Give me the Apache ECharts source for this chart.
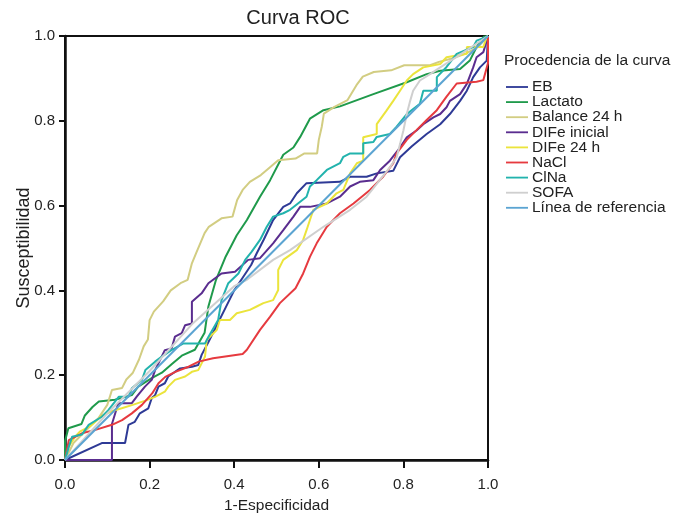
<!DOCTYPE html>
<html>
<head>
<meta charset="utf-8">
<script src="https://cdn.jsdelivr.net/npm/echarts@6/dist/echarts.min.js"></script>
<style>
html,body{margin:0;padding:0;background:#fff;}
#chart{width:683px;height:517px;}
</style>
</head>
<body>
<div id="chart"></div>
<script>
var seriesNames = ['EB','Lactato','Balance 24 h','DIFe inicial','DIFe 24 h','NaCl','ClNa','SOFA','Línea de referencia'];
var xTicks = ['0.0','0.2','0.4','0.6','0.8','1.0'];

var eb = [[0,0],[0.087,0.04],[0.142,0.04],[0.15,0.083],[0.165,0.09],[0.177,0.11],[0.197,0.122],[0.205,0.146],[0.213,0.153],[0.221,0.173],[0.236,0.181],[0.244,0.197],[0.272,0.216],[0.3,0.22],[0.315,0.224],[0.323,0.248],[0.34,0.28],[0.36,0.32],[0.38,0.36],[0.4,0.4],[0.42,0.43],[0.44,0.46],[0.453,0.487],[0.47,0.52],[0.492,0.566],[0.516,0.597],[0.532,0.605],[0.548,0.629],[0.571,0.653],[0.65,0.656],[0.674,0.668],[0.713,0.668],[0.737,0.676],[0.776,0.682],[0.792,0.714],[0.82,0.74],[0.855,0.769],[0.887,0.792],[0.91,0.816],[0.934,0.847],[0.95,0.871],[0.965,0.903],[0.981,0.926],[0.997,0.942],[1,1]];

var lactato = [[0,0],[0,0.045],[0.008,0.075],[0.039,0.085],[0.047,0.105],[0.065,0.125],[0.08,0.138],[0.118,0.142],[0.158,0.153],[0.173,0.173],[0.205,0.193],[0.229,0.206],[0.252,0.226],[0.276,0.246],[0.307,0.26],[0.33,0.3],[0.339,0.362],[0.357,0.425],[0.38,0.48],[0.406,0.53],[0.43,0.566],[0.461,0.621],[0.485,0.66],[0.516,0.72],[0.54,0.737],[0.556,0.762],[0.579,0.805],[0.611,0.825],[0.65,0.834],[0.729,0.863],[0.808,0.891],[0.855,0.91],[0.887,0.918],[0.934,0.922],[0.957,0.942],[0.973,0.974],[0.99,0.998],[1,1]];

var balance24 = [[0,0],[0.02,0.04],[0.05,0.07],[0.08,0.1],[0.1,0.13],[0.111,0.165],[0.135,0.17],[0.145,0.19],[0.16,0.205],[0.175,0.237],[0.186,0.268],[0.196,0.284],[0.2,0.33],[0.21,0.35],[0.232,0.374],[0.25,0.4],[0.273,0.417],[0.29,0.425],[0.3,0.464],[0.31,0.488],[0.33,0.535],[0.34,0.55],[0.37,0.57],[0.396,0.574],[0.407,0.613],[0.42,0.637],[0.437,0.656],[0.463,0.672],[0.484,0.69],[0.504,0.707],[0.545,0.711],[0.566,0.723],[0.596,0.723],[0.6,0.755],[0.607,0.786],[0.612,0.817],[0.637,0.833],[0.668,0.849],[0.689,0.884],[0.704,0.904],[0.73,0.915],[0.771,0.919],[0.802,0.931],[0.863,0.931],[0.884,0.939],[0.915,0.947],[0.946,0.958],[0.976,0.974],[1,1]];

var difeInicial = [[0,0],[0.111,0],[0.111,0.085],[0.126,0.134],[0.158,0.134],[0.17,0.15],[0.189,0.173],[0.205,0.189],[0.213,0.212],[0.236,0.259],[0.252,0.263],[0.26,0.291],[0.276,0.299],[0.284,0.318],[0.3,0.322],[0.3,0.373],[0.323,0.393],[0.339,0.417],[0.37,0.44],[0.402,0.444],[0.433,0.472],[0.461,0.476],[0.492,0.511],[0.516,0.542],[0.54,0.574],[0.556,0.597],[0.579,0.597],[0.619,0.605],[0.65,0.621],[0.674,0.645],[0.697,0.656],[0.729,0.66],[0.745,0.684],[0.768,0.706],[0.792,0.737],[0.808,0.761],[0.831,0.777],[0.847,0.792],[0.871,0.808],[0.887,0.816],[0.902,0.832],[0.91,0.847],[0.934,0.863],[0.95,0.887],[0.965,0.926],[0.973,0.95],[0.989,0.962],[0.997,0.989],[1,1]];

var dife24 = [[0,0],[0.008,0.031],[0.024,0.055],[0.035,0.067],[0.06,0.08],[0.087,0.104],[0.11,0.115],[0.134,0.122],[0.16,0.13],[0.19,0.14],[0.213,0.149],[0.236,0.161],[0.244,0.173],[0.26,0.189],[0.284,0.197],[0.3,0.208],[0.315,0.212],[0.323,0.228],[0.331,0.244],[0.335,0.283],[0.359,0.307],[0.366,0.33],[0.39,0.33],[0.406,0.346],[0.437,0.354],[0.453,0.362],[0.469,0.37],[0.492,0.377],[0.504,0.401],[0.504,0.448],[0.516,0.472],[0.548,0.495],[0.563,0.519],[0.571,0.542],[0.579,0.566],[0.587,0.59],[0.619,0.605],[0.642,0.629],[0.658,0.637],[0.674,0.676],[0.69,0.7],[0.705,0.706],[0.705,0.761],[0.737,0.769],[0.737,0.792],[0.76,0.824],[0.776,0.847],[0.792,0.871],[0.808,0.895],[0.823,0.91],[0.847,0.926],[0.887,0.934],[0.902,0.95],[0.95,0.958],[0.95,0.974],[0.989,0.974],[0.997,0.998],[1,1]];

var nacl = [[0,0],[0.009,0.047],[0.04,0.063],[0.072,0.071],[0.111,0.083],[0.135,0.094],[0.158,0.11],[0.182,0.13],[0.206,0.157],[0.221,0.181],[0.237,0.196],[0.261,0.208],[0.292,0.22],[0.316,0.232],[0.35,0.24],[0.42,0.25],[0.43,0.26],[0.461,0.307],[0.485,0.338],[0.508,0.37],[0.545,0.405],[0.563,0.44],[0.579,0.479],[0.595,0.511],[0.619,0.55],[0.65,0.582],[0.682,0.605],[0.721,0.637],[0.752,0.668],[0.776,0.7],[0.784,0.723],[0.808,0.755],[0.831,0.778],[0.855,0.802],[0.879,0.825],[0.902,0.857],[0.926,0.888],[0.973,0.892],[0.989,0.896],[1,0.936],[1,1]];

var clna = [[0,0],[0.009,0.031],[0.017,0.055],[0.04,0.06],[0.056,0.083],[0.087,0.102],[0.103,0.118],[0.127,0.149],[0.15,0.149],[0.158,0.169],[0.182,0.189],[0.19,0.212],[0.213,0.232],[0.229,0.244],[0.253,0.26],[0.28,0.275],[0.331,0.275],[0.339,0.29],[0.362,0.33],[0.37,0.377],[0.386,0.417],[0.41,0.44],[0.426,0.472],[0.441,0.491],[0.461,0.519],[0.477,0.55],[0.492,0.574],[0.516,0.582],[0.532,0.59],[0.571,0.621],[0.579,0.645],[0.595,0.66],[0.619,0.684],[0.65,0.7],[0.658,0.715],[0.674,0.723],[0.705,0.723],[0.705,0.747],[0.729,0.75],[0.737,0.762],[0.768,0.769],[0.784,0.786],[0.808,0.816],[0.839,0.84],[0.847,0.871],[0.879,0.871],[0.879,0.903],[0.902,0.927],[0.926,0.958],[0.965,0.974],[0.973,0.989],[0.997,0.998],[1,1]];

var sofa = [[0,0],[0.1,0.11],[0.2,0.21],[0.3,0.32],[0.4,0.41],[0.43,0.425],[0.492,0.472],[0.532,0.495],[0.611,0.55],[0.674,0.59],[0.713,0.621],[0.768,0.69],[0.784,0.714],[0.792,0.745],[0.8,0.777],[0.808,0.816],[0.816,0.847],[0.823,0.871],[0.839,0.895],[0.863,0.91],[0.887,0.926],[0.925,0.95],[1,1]];

var referencia = [[0,0],[1,1]];

var colors = ['#2e3a96','#1f9a4b','#d2cd82','#5a2d8f','#ebe43c','#e63a3f','#22b3ad','#cfcfcf','#5ba4d2'];
var dataList = [eb, lactato, balance24, difeInicial, dife24, nacl, clna, sofa, referencia];

var FONT = 'Liberation Sans';
var chart = echarts.init(document.getElementById('chart'), null, {renderer:'canvas'});
var series = seriesNames.map(function(n,i){
  return {
    name:n, type:'line', data:dataList[i], showSymbol:false, symbol:'none',
    lineStyle:{width:2, color:colors[i]}, itemStyle:{color:colors[i]},
    animation:false, z: 2
  };
});
chart.setOption({
  animation:false,
  backgroundColor:'#fff',
  textStyle:{fontFamily:FONT},
  title:[
    {text:'Curva ROC', left:298, top:8, textAlign:'center', padding:0,
     textStyle:{fontFamily:FONT, fontSize:20, fontWeight:'normal', color:'#222'}},
    {text:'Procedencia de la curva', left:504, top:53, padding:0,
     textStyle:{fontFamily:FONT, fontSize:15.5, fontWeight:'normal', color:'#222'}}
  ],
  legend:{
    orient:'vertical', left:506, top:79, padding:0, itemWidth:22, itemHeight:13, itemGap:-0.9,
    textStyle:{fontFamily:FONT, fontSize:15.5, color:'#222', padding:[0,0,0,-1]},
    data:seriesNames.map(function(n){return {name:n, icon:'path://M0,6H24V8H0Z'};})
  },
  grid:{left:65, top:36, width:423, height:424, show:true, borderColor:'#111', borderWidth:2,
        containLabel:false, outerBoundsMode:'none'},
  xAxis:{
    type:'value', min:0, max:1, interval:0.2,
    name:'1-Especificidad', nameLocation:'middle', nameGap:38, nameMoveOverlap:false,
    nameTextStyle:{fontFamily:FONT, fontSize:15.5, color:'#222'},
    axisLine:{show:true, onZero:false, lineStyle:{color:'#111', width:2.5}},
    axisTick:{show:true, length:8, lineStyle:{color:'#111', width:2}},
    axisLabel:{fontFamily:FONT, fontSize:15, color:'#222', margin:17,
      formatter:function(v){return xTicks[Math.round(v/0.2)];}},
    splitLine:{show:false}
  },
  yAxis:{
    type:'value', min:0, max:1, interval:0.2,
    name:'Susceptibilidad', nameLocation:'middle', nameGap:32, nameRotate:90, nameMoveOverlap:false,
    nameTextStyle:{fontFamily:FONT, fontSize:18, color:'#222'},
    axisLine:{show:true, onZero:false, lineStyle:{color:'#111', width:2.5}},
    axisTick:{show:true, length:6, lineStyle:{color:'#111', width:2}},
    axisLabel:{fontFamily:FONT, fontSize:15, color:'#222', margin:10,
      formatter:function(v){return xTicks[Math.round(v/0.2)];}},
    splitLine:{show:false}
  },
  series:series
});
</script>
</body>
</html>
